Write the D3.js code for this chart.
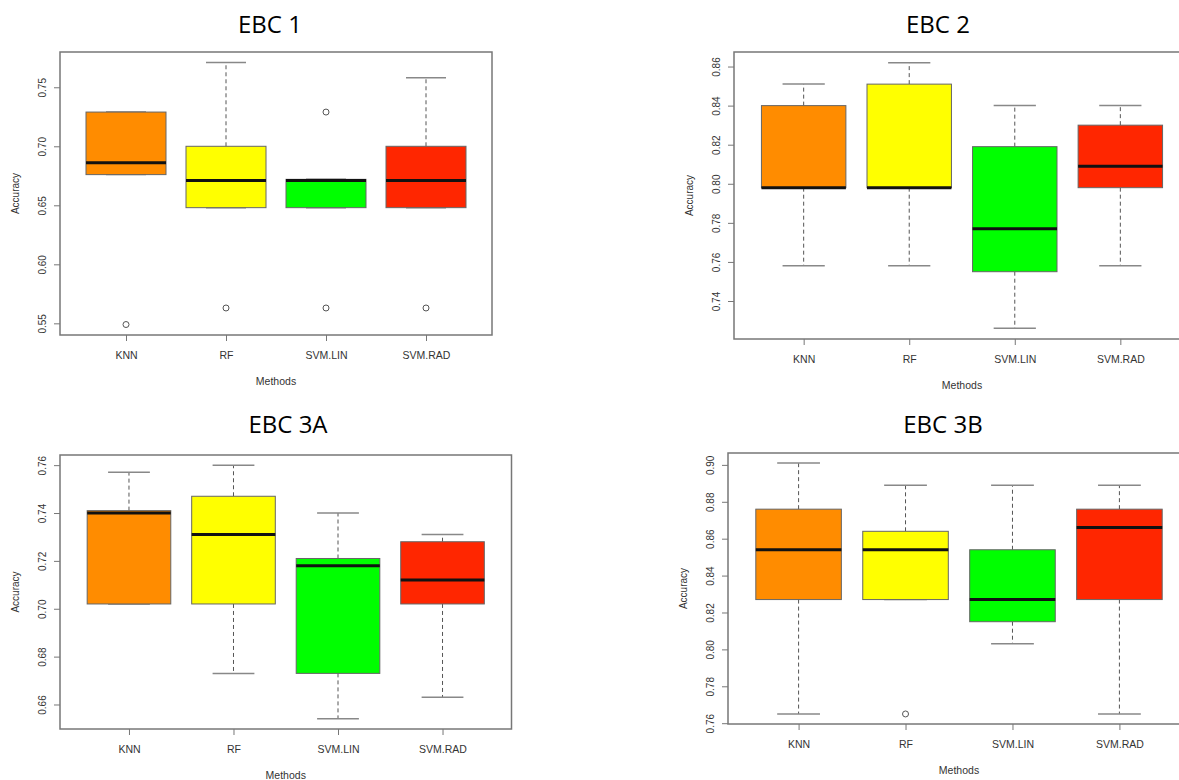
<!DOCTYPE html>
<html>
<head>
<meta charset="utf-8">
<script src="https://cdn.jsdelivr.net/npm/d3@7"></script>
<style>
  body { margin: 0; background: #fff; }
  svg { display: block; }
</style>
</head>
<body>
<svg id="chart" width="1179" height="780"></svg>
<script>
const methods = ["KNN", "RF", "SVM.LIN", "SVM.RAD"];
const boxColors = ["#ff8c00", "#ffff00", "#00ff00", "#ff2600"];

// per method: [lower whisker, Q1, median, Q3, upper whisker]
const ebc1Stats = [
  [0.676, 0.676, 0.686, 0.729, 0.729],
  [0.648, 0.648, 0.671, 0.700, 0.771],
  [0.648, 0.648, 0.671, 0.672, 0.672],
  [0.648, 0.648, 0.671, 0.700, 0.758]
];
const ebc1Outliers = [[0.549], [0.563], [0.729, 0.563], [0.563]];
const ebc1Ticks = [0.55, 0.60, 0.65, 0.70, 0.75];

const ebc2Stats = [
  [0.758, 0.798, 0.798, 0.840, 0.851],
  [0.758, 0.798, 0.798, 0.851, 0.862],
  [0.726, 0.755, 0.777, 0.819, 0.840],
  [0.758, 0.798, 0.809, 0.830, 0.840]
];
const ebc2Outliers = [[], [], [], []];
const ebc2Ticks = [0.74, 0.76, 0.78, 0.80, 0.82, 0.84, 0.86];

const ebc3aStats = [
  [0.702, 0.702, 0.740, 0.741, 0.757],
  [0.673, 0.702, 0.731, 0.747, 0.760],
  [0.654, 0.673, 0.718, 0.721, 0.740],
  [0.663, 0.702, 0.712, 0.728, 0.731]
];
const ebc3aOutliers = [[], [], [], []];
const ebc3aTicks = [0.66, 0.68, 0.70, 0.72, 0.74, 0.76];

const ebc3bStats = [
  [0.765, 0.827, 0.854, 0.876, 0.901],
  [0.827, 0.827, 0.854, 0.864, 0.889],
  [0.803, 0.815, 0.827, 0.854, 0.889],
  [0.765, 0.827, 0.866, 0.876, 0.889]
];
const ebc3bOutliers = [[], [0.765], [], []];
const ebc3bTicks = [0.76, 0.78, 0.80, 0.82, 0.84, 0.86, 0.88, 0.90];

const panels = [
  { title: "EBC 1", stats: ebc1Stats, outliers: ebc1Outliers, ticks: ebc1Ticks,
    left: 60, top: 52, right: 492, bottom: 335, titleX: 270, titleY: 33 },
  { title: "EBC 2", stats: ebc2Stats, outliers: ebc2Outliers, ticks: ebc2Ticks,
    left: 734, top: 52, right: 1190, bottom: 339, titleX: 938, titleY: 33 },
  { title: "EBC 3A", stats: ebc3aStats, outliers: ebc3aOutliers, ticks: ebc3aTicks,
    left: 60, top: 455, right: 511.5, bottom: 729, titleX: 288, titleY: 433 },
  { title: "EBC 3B", stats: ebc3bStats, outliers: ebc3bOutliers, ticks: ebc3bTicks,
    left: 728, top: 453, right: 1190, bottom: 724, titleX: 943, titleY: 433 }
];

const svg = d3.select("#chart");
const labelFont = "'Liberation Sans', Arial, sans-serif";

panels.forEach(p => {
  const g = svg.append("g");

  // R style: boxes at 1..n, x range padded 4%
  const x = d3.scaleLinear().domain([0.34, 4.66]).range([p.left, p.right]);

  const allVals = p.stats.flat().concat(p.outliers.flat());
  const [lo, hi] = d3.extent(allVals);
  const pad = (hi - lo) * 0.04;
  const y = d3.scaleLinear().domain([lo - pad, hi + pad]).range([p.bottom, p.top]);

  g.append("text")
    .attr("x", p.titleX).attr("y", p.titleY)
    .attr("text-anchor", "middle")
    .style("font-family", "'Open Sans', 'Noto Sans', sans-serif")
    .style("font-size", "24px")
    .text(p.title);

  const boxes = g.selectAll(".box")
    .data(p.stats)
    .join("g");

  // whiskers
  boxes.append("line")
    .attr("x1", (d, i) => x(i + 1)).attr("x2", (d, i) => x(i + 1))
    .attr("y1", d => y(d[3])).attr("y2", d => y(d[4]))
    .attr("stroke", "#555").attr("stroke-width", 1).attr("stroke-dasharray", "4,3");
  boxes.append("line")
    .attr("x1", (d, i) => x(i + 1)).attr("x2", (d, i) => x(i + 1))
    .attr("y1", d => y(d[1])).attr("y2", d => y(d[0]))
    .attr("stroke", "#555").attr("stroke-width", 1).attr("stroke-dasharray", "4,3");

  // caps
  [0, 4].forEach(k => {
    boxes.append("line")
      .attr("x1", (d, i) => x(i + 0.8)).attr("x2", (d, i) => x(i + 1.2))
      .attr("y1", d => y(d[k])).attr("y2", d => y(d[k]))
      .attr("stroke", "#888").attr("stroke-width", 1.5);
  });

  // box
  boxes.append("rect")
    .attr("x", (d, i) => x(i + 0.6))
    .attr("width", (d, i) => x(i + 1.4) - x(i + 0.6))
    .attr("y", d => y(d[3]))
    .attr("height", d => y(d[1]) - y(d[3]))
    .attr("fill", (d, i) => boxColors[i])
    .attr("stroke", "#666").attr("stroke-width", 1);

  // median
  boxes.append("line")
    .attr("x1", (d, i) => x(i + 0.6)).attr("x2", (d, i) => x(i + 1.4))
    .attr("y1", d => y(d[2])).attr("y2", d => y(d[2]))
    .attr("stroke", "#111").attr("stroke-width", 3);

  // outliers
  p.outliers.forEach((vals, i) => {
    g.selectAll(null)
      .data(vals)
      .join("circle")
      .attr("cx", x(i + 1))
      .attr("cy", d => y(d))
      .attr("r", 3)
      .attr("fill", "none")
      .attr("stroke", "#555")
      .attr("stroke-width", 1);
  });

  // frame
  g.append("rect")
    .attr("x", p.left).attr("y", p.top)
    .attr("width", p.right - p.left).attr("height", p.bottom - p.top)
    .attr("fill", "none").attr("stroke", "#777").attr("stroke-width", 1.5);

  // y axis
  const yAxis = g.append("g")
    .attr("transform", `translate(${p.left},0)`)
    .call(d3.axisLeft(y).tickValues(p.ticks).tickFormat(d3.format(".2f")).tickSize(6));
  yAxis.select(".domain").remove();
  yAxis.selectAll(".tick line").attr("stroke", "#777");
  yAxis.selectAll(".tick text")
    .attr("transform", "rotate(-90)")
    .attr("x", 0).attr("y", -14).attr("dy", 0)
    .attr("text-anchor", "middle")
    .attr("fill", "#333")
    .style("font-family", labelFont)
    .style("font-size", "10px");

  // x axis
  const xAxis = g.append("g")
    .attr("transform", `translate(0,${p.bottom})`)
    .call(d3.axisBottom(x).tickValues([1, 2, 3, 4]).tickFormat(d => methods[d - 1]).tickSize(6));
  xAxis.select(".domain").remove();
  xAxis.selectAll(".tick line").attr("stroke", "#777");
  xAxis.selectAll(".tick text")
    .attr("y", 24).attr("dy", 0)
    .attr("fill", "#333")
    .style("font-family", labelFont)
    .style("font-size", "10.5px");

  g.append("text")
    .attr("x", x(2.5)).attr("y", p.bottom + 50)
    .attr("text-anchor", "middle")
    .attr("fill", "#333")
    .style("font-family", labelFont)
    .style("font-size", "10.5px")
    .text("Methods");

  g.append("text")
    .attr("transform", `translate(${p.left - 41},${(p.top + p.bottom) / 2}) rotate(-90)`)
    .attr("text-anchor", "middle")
    .attr("fill", "#333")
    .style("font-family", labelFont)
    .style("font-size", "10px")
    .text("Accuracy");
});
</script>
</body>
</html>
